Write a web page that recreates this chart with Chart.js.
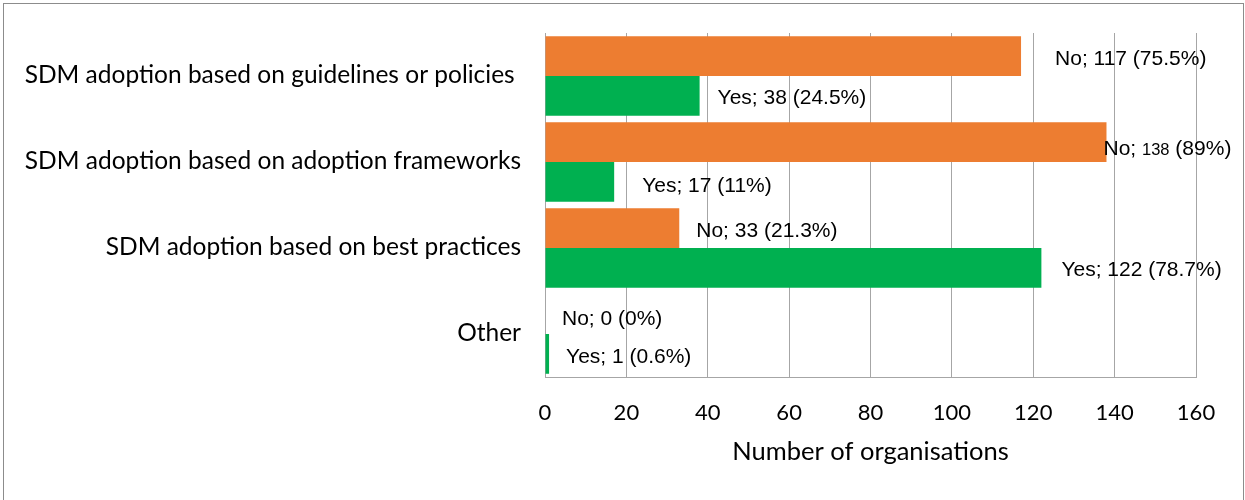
<!DOCTYPE html>
<html>
<head>
<meta charset="utf-8">
<script src="https://cdn.jsdelivr.net/npm/chart.js@4"></script>
<style>
  html, body { margin: 0; padding: 0; background: #fff; }
  #wrap { position: relative; width: 1245px; height: 500px; }
  #frame {
    position: absolute; left: 3px; top: 3px; width: 1241px; height: 520px;
    border: 1px solid #8c8c8c; box-sizing: border-box; pointer-events: none;
  }
</style>
</head>
<body>
<div id="wrap">
  <canvas id="adoptionChart" width="1245" height="500"></canvas>
  <div id="frame"></div>
</div>
<script>
// categories and counts (number of organisations)
const categories = [
    'SDM adoption based on guidelines or policies ',
    'SDM adoption based on adoption frameworks',
    'SDM adoption based on best practices',
    'Other'
];
const noCounts = [117, 138, 33, 0];
const yesCounts = [38, 17, 122, 1];
const noPct = ['75.5', '89', '21.3', '0'];
const yesPct = ['24.5', '11', '78.7', '0.6'];
const xTicks = [0, 20, 40, 60, 80, 100, 120, 140, 160];

const axisFont = 'Lato';
const labelFont = '"Liberation Sans", Arial, sans-serif';

// value labels "Name; n (p%)", placed just past the end of each bar
const barLabels = {
    id: 'barLabels',
    afterDatasetsDraw(chart, args, opts) {
        const ctx = chart.ctx;
        ctx.save();
        ctx.fillStyle = '#000';
        ctx.textAlign = 'left';
        ctx.textBaseline = 'alphabetic';
        chart.data.datasets.forEach((ds, i) => {
            const meta = chart.getDatasetMeta(i);
            meta.data.forEach((bar, j) => {
                let x = bar.x + opts.dx[i][j];
                const y = bar.y + opts.dy[i][j] + 7.5;
                const parts = [
                    [ds.label + '; ', opts.size],
                    [String(ds.data[j]), opts.valueSize[i][j]],
                    [' (' + ds.pct[j] + '%)', opts.size]
                ];
                parts.forEach(([txt, size]) => {
                    ctx.font = size + 'px ' + labelFont;
                    ctx.fillText(txt, x, y);
                    x += ctx.measureText(txt).width;
                });
            });
        });
        ctx.restore();
    }
};

new Chart(document.getElementById('adoptionChart'), {
    type: 'bar',
    data: {
        labels: categories,
        datasets: [{
            label: 'No',
            data: noCounts,
            pct: noPct,
            backgroundColor: '#ED7D31'
        }, {
            label: 'Yes',
            data: yesCounts,
            pct: yesPct,
            backgroundColor: '#00B050'
        }]
    },
    options: {
        indexAxis: 'y',
        responsive: false,
        animation: false,
        categoryPercentage: 0.925,
        barPercentage: 1,
        layout: {
            padding: { top: 33, right: 49, bottom: 30, left: 0 }
        },
        scales: {
            x: {
                min: 0,
                max: 160,
                afterBuildTicks: (scale) => {
                    scale.ticks = xTicks.map(v => ({ value: v }));
                },
                afterFit: (scale) => { scale.height = 93; },
                grid: { color: '#a6a6a6', lineWidth: 1, drawTicks: false },
                border: { color: '#a6a6a6', width: 1 },
                ticks: {
                    color: '#000',
                    padding: 23,
                    font: { family: axisFont, size: 22 }
                },
                title: {
                    display: true,
                    text: 'Number of organisations',
                    color: '#000',
                    padding: { top: 0, bottom: 3 },
                    font: { family: axisFont, size: 25.5 }
                }
            },
            y: {
                afterFit: (scale) => {
                    scale.width = 545;
                    // keep the plot top at the layout padding
                    scale.paddingTop = 0;
                    scale.paddingBottom = 0;
                },
                grid: { display: false, drawTicks: false },
                border: { color: '#a6a6a6', width: 1 },
                ticks: {
                    color: '#000',
                    padding: 24,
                    labelOffset: -1,
                    font: { family: axisFont, size: 24.5 }
                }
            }
        },
        plugins: {
            legend: { display: false },
            tooltip: { enabled: false },
            barLabels: {
                size: 21,
                valueSize: [[21, 16.5, 21, 21], [21, 21, 21, 21]],
                dx: [[34, -3, 17, 17], [18, 28, 20, 17]],
                dy: [[1, 5, 1.5, 3], [1, 3, 1, 1.5]]
            }
        }
    },
    plugins: [barLabels]
});
</script>
</body>
</html>
